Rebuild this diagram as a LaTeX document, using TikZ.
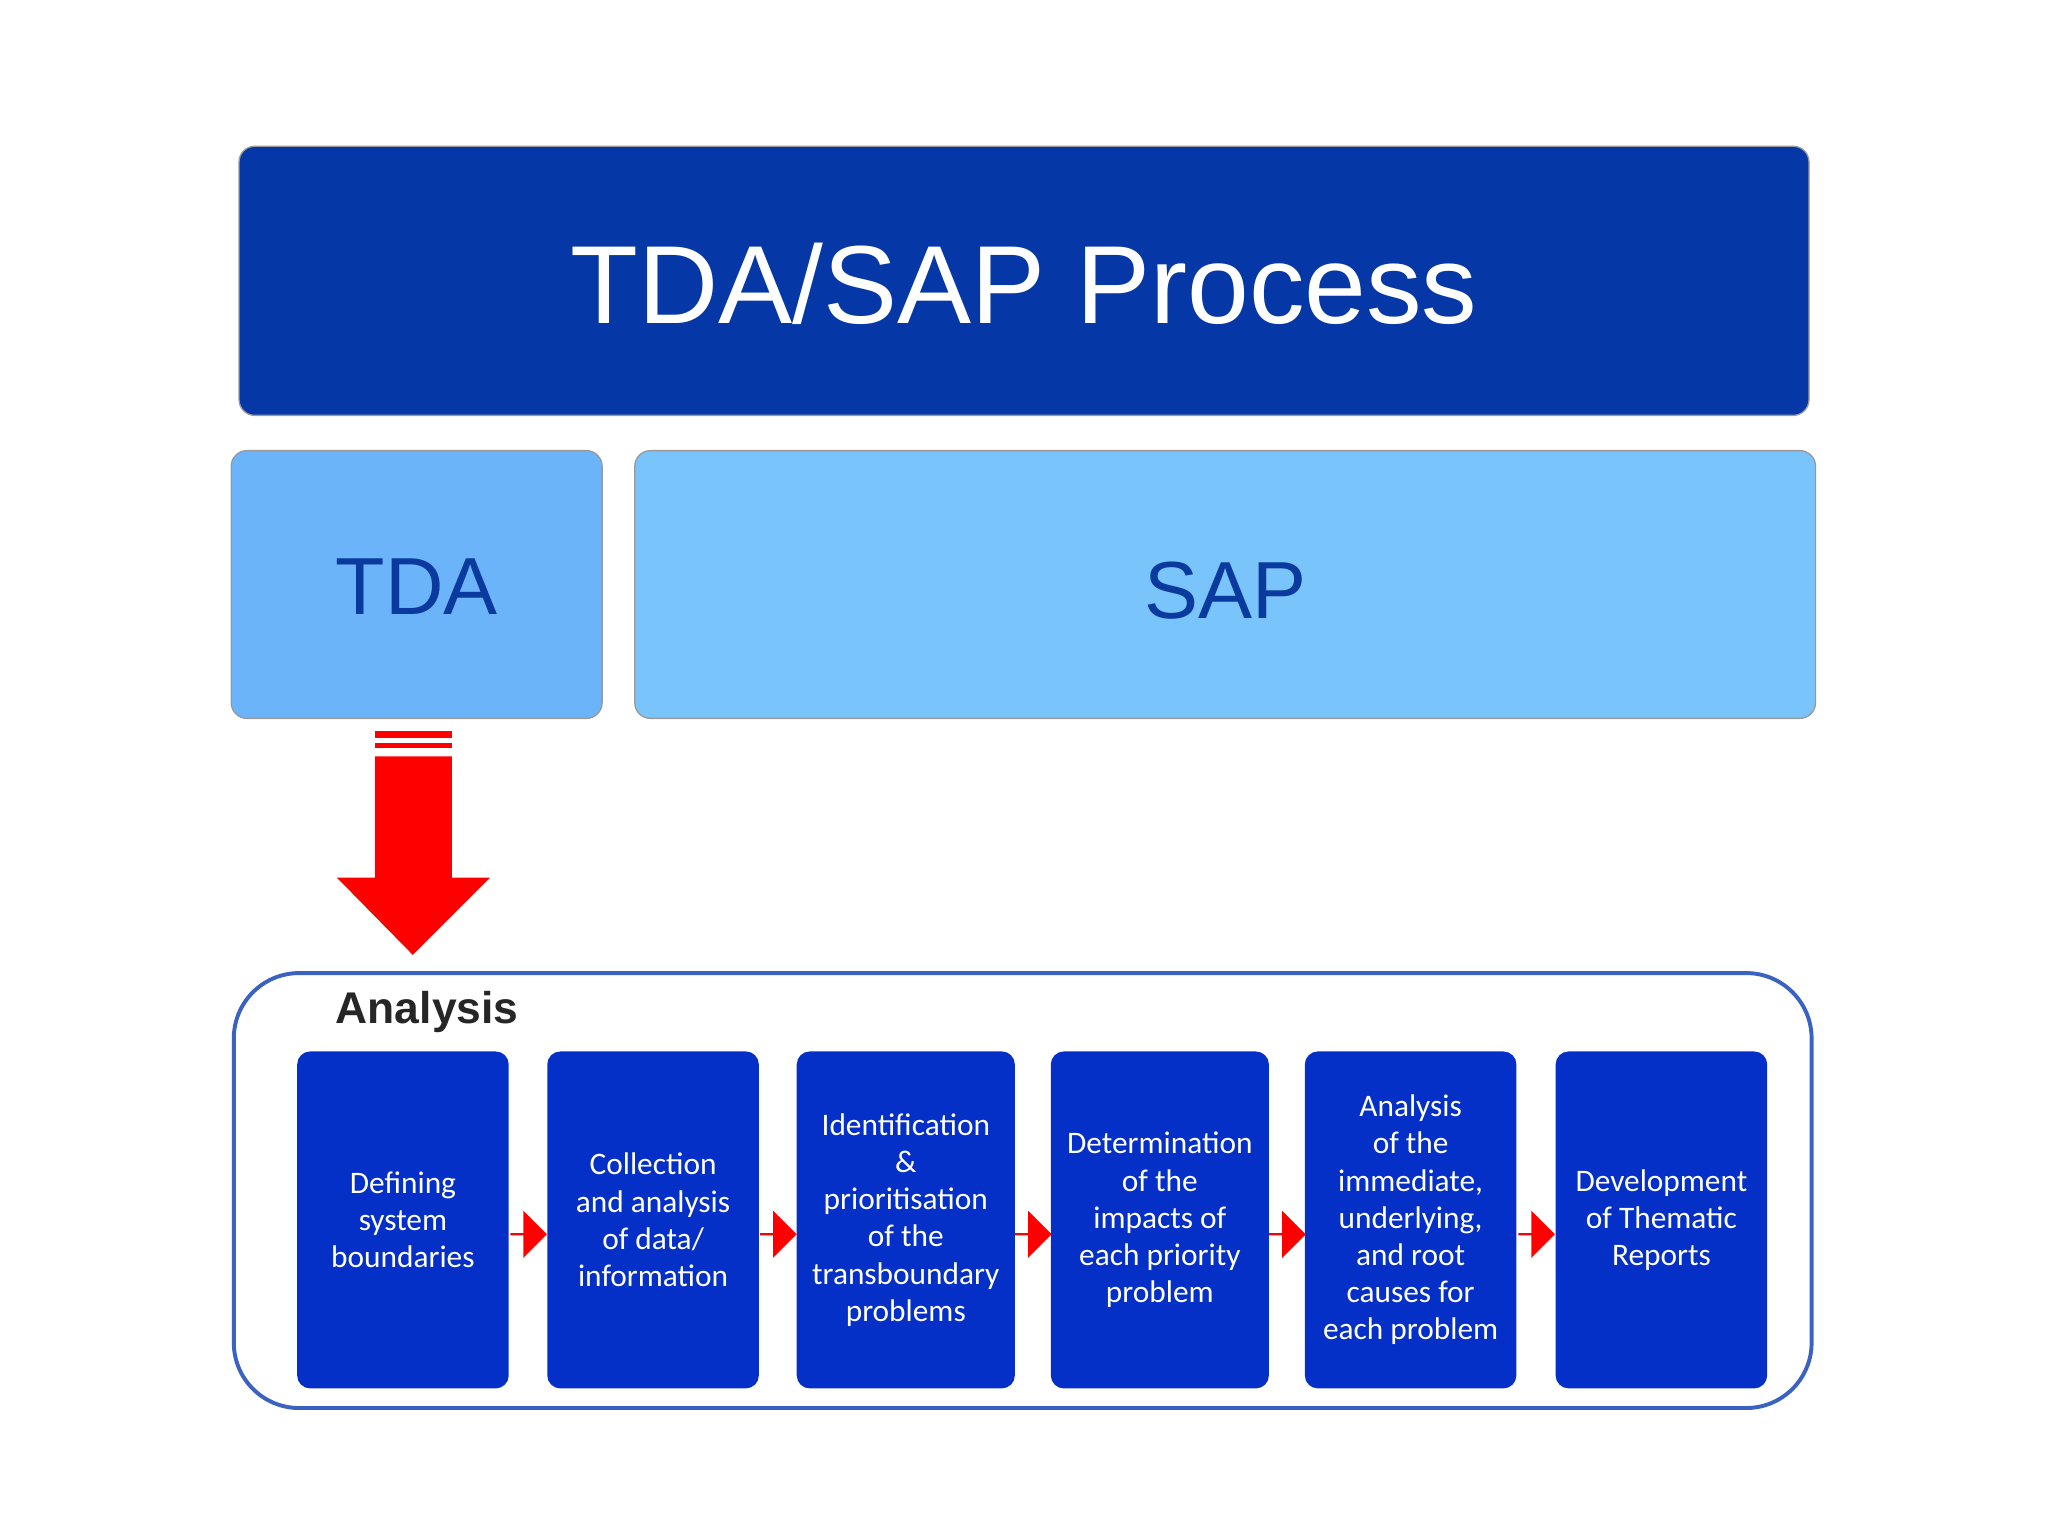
\documentclass[tikz,border=0pt]{standalone}
\usepackage{fontspec}
\setmainfont{Liberation Sans}
\newfontfamily\boxfont{Carlito}
\usetikzlibrary{positioning,shapes.arrows,calc}
\definecolor{titleblue}{RGB}{5,56,166}
\definecolor{tdablue}{RGB}{108,180,250}
\definecolor{sapblue}{RGB}{122,196,252}
\definecolor{darktext}{RGB}{11,58,158}
\definecolor{stepblue}{RGB}{5,48,200}
\definecolor{framblue}{RGB}{58,98,192}
\tikzset{
  bar/.style={rounded corners=12pt, draw=black!40, line width=1pt},
  stepbox/.style={fill=stepblue, rounded corners=10pt, minimum width=162pt, minimum height=258pt,
    text=white, align=center, font=\boxfont\fontsize{24}{28.5}\selectfont, inner sep=2pt},
  link/.style={single arrow, fill=red, draw=none, minimum height=28pt, minimum width=36pt,
    single arrow head extend=4pt, inner sep=0pt}
}
\begin{document}
\begin{tikzpicture}[x=1pt,y=-1pt]
\useasboundingbox (0,0) rectangle (1568,1176);

% Title bar
\draw[bar, fill=titleblue] (183,112) rectangle (1385,318);
\node[text=white, font=\fontsize{85}{90}\selectfont] (title) at (784,217) {TDA/SAP Process};

% TDA and SAP
\draw[bar, fill=tdablue] (177,345) rectangle (461,550);
\node[text=darktext, font=\fontsize{62}{66}\selectfont] (tda) at (319,449) {TDA};
\draw[bar, fill=sapblue] (486,345) rectangle (1390,550);
\node[text=darktext, font=\fontsize{62}{66}\selectfont] (sap) at (938,452) {SAP};

% Big red arrow
\fill[red] (287,579) -- (346,579) -- (346,672) -- (375,672) -- (316,731) -- (258,672) -- (287,672) -- cycle;
\fill[red] (287,560) rectangle (346,565);
\fill[red] (287,569) rectangle (346,573);

% Analysis frame
\draw[framblue, line width=3pt, rounded corners=50pt] (179,745) rectangle (1387,1078);
\node[font=\bfseries\fontsize{34}{36}\selectfont, text=black!85] (analysis) at (327,775) {Analysis};

% Steps
\node[stepbox] (s1) at (308.5,934) {Defining\\system\\boundaries};
\node[stepbox] (s2) at (500,934) {Collection\\and analysis\\of data/\\information};
\node[stepbox, minimum width=167pt] (s3) at (693.5,934) {Identification\\\&\\prioritisation\\of the\\transboundary\\problems};
\node[stepbox, minimum width=167pt] (s4) at (888,934) {Determination\\of the\\impacts of\\each priority\\problem};
\node[stepbox] (s5) at (1080,934) {Analysis\\of the\\immediate,\\underlying,\\and root\\causes for\\each problem};
\node[stepbox] (s6) at (1272,934) {Development\\of Thematic\\Reports};

\foreach \a/\b in {s1/s2,s2/s3,s3/s4,s4/s5,s5/s6}
  \node[link] at ($(\a.east)!0.5!(\b.west)+(0,11)$) {};
\end{tikzpicture}
\end{document}
